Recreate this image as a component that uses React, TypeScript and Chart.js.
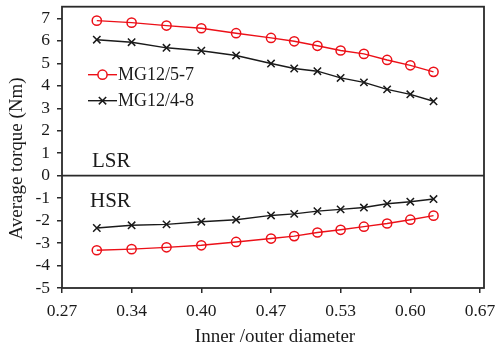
import React, { useEffect, useRef } from "react";
import { Chart, registerables } from "chart.js";

Chart.register(...registerables);

// Inner/outer diameter ratios of the studied designs
const ratios = [0.3, 0.3333, 0.3667, 0.4, 0.4333, 0.4667, 0.4889, 0.5111, 0.5333, 0.5556, 0.5778, 0.6, 0.6222];

// Average torque (Nm) on the low-speed rotor (LSR)
const lsr5_7 = [6.9, 6.81, 6.68, 6.56, 6.34, 6.13, 5.98, 5.78, 5.57, 5.42, 5.15, 4.91, 4.62];
const lsr4_8 = [6.05, 5.94, 5.69, 5.56, 5.35, 4.99, 4.77, 4.65, 4.35, 4.15, 3.84, 3.62, 3.31];

// Average torque (Nm) on the high-speed rotor (HSR)
const hsr5_7 = [-3.32, -3.27, -3.19, -3.1, -2.95, -2.8, -2.69, -2.53, -2.41, -2.27, -2.13, -1.96, -1.78];
const hsr4_8 = [-2.33, -2.21, -2.17, -2.05, -1.96, -1.77, -1.7, -1.58, -1.5, -1.42, -1.25, -1.16, -1.04];

const seriesNames = ["MG12/5-7", "MG12/4-8"];

const xTickValues = [0.2667, 0.3333, 0.4, 0.4667, 0.5333, 0.6, 0.6667];
const xTickLabels = ["0.27", "0.34", "0.40", "0.47", "0.53", "0.60", "0.67"];
const yTickValues = [-5, -4, -3, -2, -1, 0, 1, 2, 3, 4, 5, 6, 7];

const RED = "#ec1018";
const BLACK = "#1a1a1a";
const AXIS = "#2a2a2a";
const SERIF = "'Liberation Serif', 'Times New Roman', serif";

const toPoints = (ys: number[]) => ratios.map((x, i) => ({ x, y: ys[i] }));

const redStyle = {
  borderColor: RED,
  backgroundColor: "rgba(0,0,0,0)",
  pointBorderColor: RED,
  pointBackgroundColor: "rgba(0,0,0,0)",
  pointStyle: "circle" as const,
  pointRadius: 4.6,
  pointBorderWidth: 1.5,
  borderWidth: 1.4,
};

const blackStyle = {
  borderColor: BLACK,
  backgroundColor: "rgba(0,0,0,0)",
  pointBorderColor: BLACK,
  pointBackgroundColor: "rgba(0,0,0,0)",
  pointStyle: "crossRot" as const,
  pointRadius: 5.2,
  pointBorderWidth: 1.5,
  borderWidth: 1.4,
};

// Frame, zero line, inline legend, region labels and axis titles
const decorations = {
  id: "decorations",
  afterDatasetsDraw(chart: any) {
    const { ctx, chartArea: a, scales } = chart;
    const y0 = scales.y.getPixelForValue(0);
    ctx.save();
    ctx.strokeStyle = AXIS;
    ctx.lineWidth = 1.8;
    ctx.strokeRect(a.left, a.top, a.right - a.left, a.bottom - a.top);
    ctx.beginPath();
    ctx.moveTo(a.left, y0);
    ctx.lineTo(a.right, y0);
    ctx.stroke();

    // legend
    const entries = [
      { name: seriesNames[0], color: RED, style: "circle", r: 4.6, y: a.top + 68 },
      { name: seriesNames[1], color: BLACK, style: "crossRot", r: 5.2, y: a.top + 94 },
    ];
    const lx0 = a.left + 26;
    const lx1 = a.left + 55;
    entries.forEach((e) => {
      ctx.strokeStyle = e.color;
      ctx.lineWidth = 1.4;
      ctx.beginPath();
      ctx.moveTo(lx0, e.y);
      ctx.lineTo(lx1, e.y);
      ctx.stroke();
      ctx.lineWidth = 1.5;
      ctx.fillStyle = "#fff";
      if (e.style === "circle") {
        ctx.beginPath();
        ctx.arc((lx0 + lx1) / 2, e.y, e.r, 0, Math.PI * 2);
        ctx.fill();
        ctx.stroke();
      } else {
        const cx = (lx0 + lx1) / 2;
        const d = e.r * Math.SQRT1_2;
        ctx.beginPath();
        ctx.moveTo(cx - d, e.y - d);
        ctx.lineTo(cx + d, e.y + d);
        ctx.moveTo(cx + d, e.y - d);
        ctx.lineTo(cx - d, e.y + d);
        ctx.stroke();
      }
      ctx.fillStyle = "#1a1a1a";
      ctx.font = `18px ${SERIF}`;
      ctx.textAlign = "left";
      ctx.textBaseline = "middle";
      ctx.fillText(e.name, lx1 + 1, e.y + 1);
    });

    // region labels
    ctx.fillStyle = "#1a1a1a";
    ctx.font = `21px ${SERIF}`;
    ctx.textAlign = "left";
    ctx.textBaseline = "alphabetic";
    ctx.fillText("LSR", a.left + 30, y0 - 8.5);
    ctx.fillText("HSR", a.left + 28, y0 + 31.5);

    // axis titles
    ctx.font = `19px ${SERIF}`;
    ctx.textAlign = "center";
    ctx.fillText("Inner /outer diameter", (a.left + a.right) / 2 + 2, a.bottom + 54);
    ctx.translate(21.5, 158.5);
    ctx.rotate(-Math.PI / 2);
    ctx.fillText("Average torque (Nm)", 0, 0);
    ctx.restore();
  },
};

export default function App() {
  const canvasRef = useRef<HTMLCanvasElement | null>(null);

  useEffect(() => {
    document.body.style.margin = "0";
    const canvas = canvasRef.current;
    if (!canvas) return;
    const chart = new Chart(canvas, {
      type: "line",
      data: {
        datasets: [
          { label: seriesNames[0], data: toPoints(lsr5_7), ...redStyle },
          { label: seriesNames[1], data: toPoints(lsr4_8), ...blackStyle },
          { label: seriesNames[1] + " HSR", data: toPoints(hsr4_8), ...blackStyle },
          { label: seriesNames[0] + " HSR", data: toPoints(hsr5_7), ...redStyle },
        ],
      },
      options: {
        responsive: false,
        animation: false,
        devicePixelRatio: 1,
        layout: { padding: { top: 5, right: 12, left: 0, bottom: 0 } },
        plugins: {
          legend: { display: false },
          tooltip: { enabled: false },
        },
        elements: { line: { tension: 0 } },
        scales: {
          x: {
            type: "linear",
            min: 0.2667,
            max: 0.6705,
            afterBuildTicks: (axis: any) => {
              axis.ticks = xTickValues.map((value) => ({ value }));
            },
            afterFit: (axis: any) => {
              axis.height = 61;
              axis.paddingLeft = 0;
              axis.paddingRight = 0;
            },
            ticks: {
              autoSkip: false,
              maxRotation: 0,
              padding: 8,
              color: "#1a1a1a",
              font: { family: SERIF, size: 17.5 },
              callback: (_v: any, i: number) => xTickLabels[i],
            },
            grid: {
              display: true,
              drawOnChartArea: false,
              drawTicks: true,
              tickLength: 5,
              color: AXIS,
              lineWidth: 1.5,
            },
            border: { display: false },
          },
          y: {
            type: "linear",
            min: -5,
            max: 7.52,
            afterBuildTicks: (axis: any) => {
              axis.ticks = yTickValues.map((value) => ({ value }));
            },
            afterFit: (axis: any) => {
              axis.width = 62;
              axis.paddingTop = 0;
              axis.paddingBottom = 0;
            },
            ticks: {
              autoSkip: false,
              padding: 7,
              color: "#1a1a1a",
              font: { family: SERIF, size: 17.5 },
              callback: (v: any) => String(v),
            },
            grid: {
              display: true,
              drawOnChartArea: false,
              drawTicks: true,
              tickLength: 5,
              color: AXIS,
              lineWidth: 1.5,
            },
            border: { display: false },
          },
        },
      },
      plugins: [decorations],
    });
    return () => chart.destroy();
  }, []);

  return <canvas ref={canvasRef} width={496} height={349} style={{ display: "block" }} />;
}
